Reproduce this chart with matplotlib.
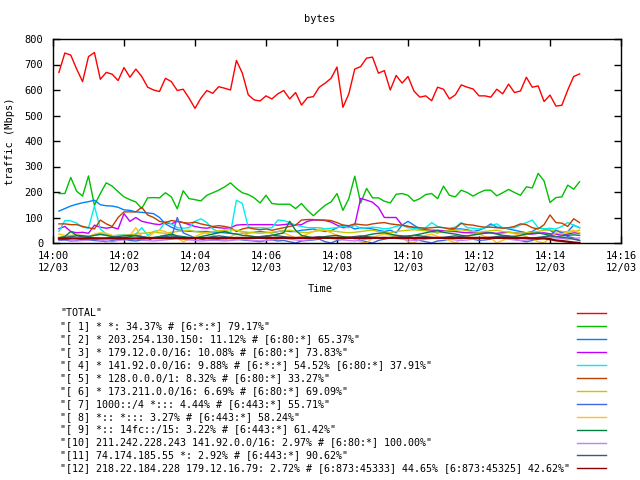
import matplotlib
matplotlib.use("Agg")
import matplotlib.pyplot as plt
import matplotlib.dates as mdates
from matplotlib.lines import Line2D
import pandas as pd

plt.rcParams['font.family'] = ['DejaVu Sans Mono']

# sample times: one point every 10 s
times = pd.date_range('2010-12-03 14:00:10', periods=89, freq='10s')

total = [669, 745, 737, 682, 633, 731, 747, 642, 669, 662, 637, 688, 650, 682, 653, 611, 600, 594, 646, 633,
         598, 603, 568, 528, 568, 598, 587, 613, 607, 600, 716, 666, 581, 561, 557, 577, 565, 585, 598, 565,
         590, 541, 570, 574, 611,
         627, 646, 690, 532, 585, 682, 692, 725, 729, 666, 676, 600, 657, 627, 653, 596, 572, 577, 558, 611,
         603, 565, 581, 620, 611, 604, 577, 577, 572, 603, 585, 623, 590, 596, 650, 611, 616, 555, 580, 537,
         540, 600, 653, 663]
s1 = [194, 194, 257, 203, 184, 263, 148, 194, 236, 223, 201, 181, 170, 161, 135, 177, 178, 177, 197, 181,
      134, 205, 174, 170, 165, 187, 197, 207, 220, 236, 214, 197, 190, 177, 157, 187, 155, 152, 152, 152,
      135, 155, 128, 107, 128,
      148, 161, 194, 128, 174, 262, 157, 214, 177, 177, 164, 157, 191, 194, 187, 164, 174, 190, 194, 174,
      223, 187, 181, 207, 198, 184, 197, 207, 207, 185, 197, 210, 198, 187, 220, 216, 273, 243, 159, 178,
      181, 227, 211, 240]
s2 = [125, 135, 145, 152, 158, 162, 168, 150, 146, 145, 140, 130, 128, 122, 120, 118, 115, 100, 75, 62,
      52, 48, 46, 45, 45, 45, 43, 42, 40, 38, 35, 38, 40, 42, 45, 42, 40, 45, 48, 45,
      45, 50, 52, 55, 50,
      45, 48, 60, 70, 65, 55, 60, 58, 55, 50, 45, 50, 40, 70, 85, 70, 55, 50, 45, 40,
      45, 50, 55, 55, 52, 45, 50, 60, 75, 62, 60, 55, 50, 45, 40, 45, 60, 55, 50, 35,
      40, 45, 70, 60]
s3 = [56, 65, 45, 40, 42, 38, 70, 62, 58, 62, 55, 115, 85, 100, 85, 80, 75, 72, 80, 75,
      85, 80, 72, 65, 60, 58, 62, 60, 58, 60, 70, 72, 72, 72, 72, 72, 72, 70, 72, 75,
      70, 72, 85, 90, 90,
      88, 82, 70, 60, 62, 70, 175, 168, 160, 140, 100, 100, 100, 70, 65, 60, 55, 52, 50, 50,
      48, 45, 45, 42, 40, 40, 40, 42, 40, 38, 40, 42, 40, 38, 36, 35, 38, 40, 36, 35,
      32, 35, 40, 38]
s4 = [45, 88, 87, 78, 62, 58, 145, 55, 35, 28, 30, 32, 30, 35, 60, 30, 45, 50, 85, 75,
      60, 58, 60, 85, 95, 80, 55, 45, 50, 40, 168, 155, 62, 60, 60, 58, 60, 90, 88, 80,
      70, 65, 60, 60, 60,
      55, 58, 60, 65, 60, 70, 58, 60, 62, 60, 55, 58, 65, 70, 60, 58, 55, 60, 80, 65,
      60, 58, 62, 80, 60, 58, 55, 60, 68, 75, 60, 58, 60, 70, 80, 90, 60, 55, 58, 55,
      65, 80, 70, 60]
s5 = [75, 75, 72, 72, 65, 60, 55, 90, 75, 65, 100, 122, 122, 122, 140, 110, 100, 85, 80, 88,
      85, 80, 78, 82, 75, 70, 65, 68, 65, 60, 45, 55, 60, 55, 52, 55, 50, 55, 60, 65,
      70, 90, 92, 92, 90,
      90, 88, 80, 70, 68, 75, 72, 70, 75, 78, 80, 75, 72, 70, 65, 62, 60, 58, 60, 62,
      60, 55, 58, 77, 72, 70, 65, 62, 62, 60, 58, 60, 65, 75, 72, 60, 55, 72, 110, 80,
      78, 65, 95, 80]
s6 = [22, 28, 30, 32, 30, 28, 30, 32, 30, 28, 30, 30, 32, 35, 38, 40, 42, 40, 38, 42,
      45, 48, 50, 45, 42, 40, 45, 48, 50, 52, 50, 45, 42, 40, 38, 40, 42, 45, 48, 50,
      45, 42, 40, 45, 48,
      50, 48, 45, 42, 40, 42, 45, 48, 50, 45, 42, 40, 45, 48, 50, 52, 50, 48, 45, 42,
      45, 48, 50, 52, 48, 45, 42, 45, 48, 50, 45, 42, 40, 38, 40, 42, 45, 50, 52, 48,
      45, 42, 45, 50]
s7 = [10, 12, 8, 10, 15, 12, 10, 8, 5, 10, 12, 15, 10, 8, 12, 10, 20, 25, 30, 20,
      100, 40, 30, 20, 15, 10, 12, 15, 20, 18, 15, 12, 10, 8, 5, 10, 12, 8, 10, 5,
      0, 8, 10, 12, 15,
      5, 0, 10, 15, 20, 25, 10, 5, 0, 10, 15, 20, 30, 25, 20, 15, 10, 5, 0, 8,
      10, 15, 20, 25, 20, 15, 10, 12, 15, 20, 25, 20, 15, 10, 5, 10, 15, 20, 30, 50,
      40, 25, 20, 10]
s8 = [35, 30, 25, 30, 28, 25, 35, 40, 38, 30, 25, 20, 30, 60, 25, 20, 40, 50, 45, 30,
      20, 5, 15, 25, 35, 40, 30, 20, 10, 25, 35, 40, 30, 25, 20, 15, 30, 35, 40, 30,
      20, 25, 35, 45, 55,
      50, 40, 30, 20, 25, 15, 5, 0, 20, 30, 35, 30, 25, 20, 5, 0, 15, 30, 35, 25,
      20, 10, 0, 15, 25, 30, 35, 25, 20, 0, 10, 20, 30, 35, 25, 15, 5, 0, 20, 40,
      35, 45, 50, 40]
s9 = [20, 25, 45, 30, 28, 25, 30, 35, 30, 25, 22, 20, 25, 30, 25, 20, 22, 25, 30, 35,
      28, 25, 22, 20, 25, 30, 35, 40, 45, 38, 35, 30, 28, 25, 22, 25, 30, 35, 40, 85,
      50, 30, 25, 20, 22,
      25, 28, 30, 25, 22, 20, 25, 30, 35, 38, 40, 35, 30, 28, 25, 30, 35, 40, 45, 48,
      42, 38, 35, 30, 28, 32, 35, 38, 40, 35, 30, 28, 25, 30, 35, 38, 40, 35, 30, 25,
      28, 30, 32, 30]
s10 = [12, 15, 10, 8, 10, 12, 15, 10, 8, 5, 10, 12, 15, 18, 12, 10, 8, 10, 12, 15,
       18, 15, 12, 10, 8, 10, 12, 10, 8, 10, 12, 15, 12, 10, 8, 10, 12, 15, 18, 15,
       12, 10, 12, 15, 18,
       20, 18, 15, 12, 10, 8, 12, 15, 18, 20, 22, 20, 18, 15, 12, 10, 12, 15, 18, 20,
       18, 15, 12, 10, 12, 15, 18, 20, 22, 20, 18, 15, 12, 10, 12, 15, 18, 20, 22, 20,
       18, 15, 18, 20]
s11 = [20, 22, 25, 28, 25, 22, 20, 18, 20, 22, 25, 28, 30, 28, 25, 22, 20, 22, 25, 28,
       25, 22, 20, 18, 20, 22, 25, 28, 25, 22, 20, 18, 20, 22, 25, 28, 30, 28, 25, 22,
       20, 18, 20, 22, 25,
       22, 20, 18, 20, 22, 25, 28, 25, 22, 20, 18, 20, 22, 25, 28, 30, 28, 25, 22, 20,
       22, 25, 28, 25, 22, 20, 18, 20, 22, 25, 28, 25, 22, 20, 18, 20, 22, 25, 28, 25,
       22, 20, 15, 10]
s12 = [17, 17, 18, 18, 18, 18, 18, 18, 18, 18, 18, 18, 18, 18, 19, 19, 19, 19, 19, 19,
       19, 19, 19, 19, 19, 19, 19, 19, 19, 19, 20, 20, 20, 20, 20, 20, 20, 20, 20, 20,
       20, 20, 20, 20, 20,
       20, 20, 20, 20, 20, 20, 20, 20, 20, 20, 20, 20, 20, 20, 20, 20, 20, 20, 20, 20,
       20, 20, 20, 20, 20, 20, 20, 20, 20, 20, 20, 20, 20, 20, 20, 18, 18, 18, 15, 10,
       8, 5, 2, 0]

labels = ['"TOTAL"',
          '"[ 1] * *: 34.37% # [6:*:*] 79.17%"',
          '"[ 2] * 203.254.130.150: 11.12% # [6:80:*] 65.37%"',
          '"[ 3] * 179.12.0.0/16: 10.08% # [6:80:*] 73.83%"',
          '"[ 4] * 141.92.0.0/16: 9.88% # [6:*:*] 54.52% [6:80:*] 37.91%"',
          '"[ 5] * 128.0.0.0/1: 8.32% # [6:80:*] 33.27%"',
          '"[ 6] * 173.211.0.0/16: 6.69% # [6:80:*] 69.09%"',
          '"[ 7] 1000::/4 *::: 4.44% # [6:443:*] 55.71%"',
          '"[ 8] *:: *::: 3.27% # [6:443:*] 58.24%"',
          '"[ 9] *:: 14fc::/15: 3.22% # [6:443:*] 61.42%"',
          '"[10] 211.242.228.243 141.92.0.0/16: 2.97% # [6:80:*] 100.00%"',
          '"[11] 74.174.185.55 *: 2.92% # [6:443:*] 90.62%"',
          '"[12] 218.22.184.228 179.12.16.79: 2.72% # [6:873:45333] 44.65% [6:873:45325] 42.62%"']
colors = ['#ff0000', '#00c000', '#0080ff', '#c000ff', '#00eeee', '#c04000', '#c8c800',
          '#4169e1', '#ffc020', '#008040', '#c080ff', '#306080', '#8b0000']
series = [total, s1, s2, s3, s4, s5, s6, s7, s8, s9, s10, s11, s12]

fig = plt.figure(figsize=(6.4, 4.8), dpi=100)
ax = fig.add_axes([53/640, 1-243/480, 568/640, 204/480])

for vals, c in zip(series, colors):
    lw = 1.6 if c == '#8b0000' else 1.0
    ax.plot(times, vals, color=c, lw=lw)

ax.set_ylim(0, 800)
ax.set_yticks(range(0, 801, 100))
ax.set_xlim(pd.Timestamp('2010-12-03 14:00'), pd.Timestamp('2010-12-03 14:16'))
ax.set_xticks(pd.date_range('2010-12-03 14:00', '2010-12-03 14:16', freq='2min'))
ax.xaxis.set_major_formatter(mdates.DateFormatter('%H:%M\n%m/%d'))
ax.tick_params(direction='in', length=5, width=1, top=True, right=True, labelsize=7.5)
ax.tick_params(axis='y', pad=7)
ax.tick_params(axis='x', pad=6)
for sp in ax.spines.values():
    sp.set_linewidth(1.0)

fig.text(320/640, 1-19/480, 'bytes', ha='center', va='center', fontsize=7.5)
fig.text(10/640, 1-141/480, 'traffic (Mbps)', ha='center', va='center', rotation=90, fontsize=7.5)
fig.text(320/640, 1-289/480, 'Time', ha='center', va='center', fontsize=7.5)

# legend below the plot
for k, (lab, c) in enumerate(zip(labels, colors)):
    y = 1 - (313 + 12.95*k)/480
    fig.text(60/640, y, lab, ha='left', va='center', fontsize=7.2)
    fig.add_artist(Line2D([577/640, 606/640], [y, y], color=c, lw=1.0))

fig.savefig('out.png', dpi=100)
